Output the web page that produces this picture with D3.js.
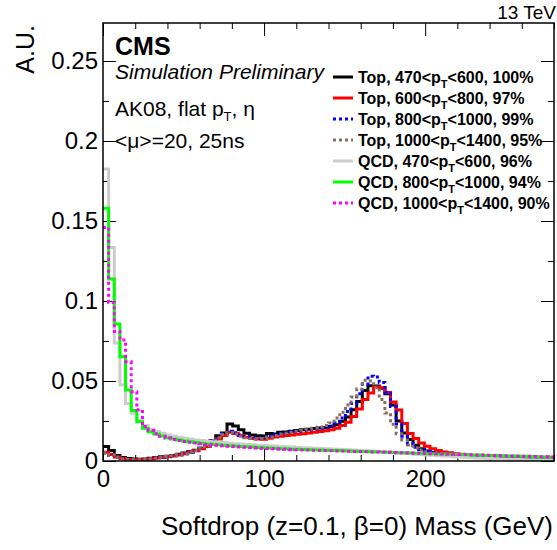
<!DOCTYPE html>
<html>
<head>
<meta charset="utf-8">
<script src="https://cdnjs.cloudflare.com/ajax/libs/d3/7.8.5/d3.min.js"></script>
<style>
  body { margin: 0; background: #fff; }
  svg { display: block; font-family: "Liberation Sans", Arial, Helvetica, sans-serif; }
</style>
</head>
<body>
<svg id="chart" width="557" height="550"></svg>
<script>
"use strict";

// Histogram binning: 80 bins of 3.5 GeV, 0 - 280 GeV
var bin_width = 3.5;

var top_470_600 = [
  0.0090, 0.0065, 0.0035, 0.0022, 0.0015, 0.0012, 0.0011, 0.0013, 0.0017, 0.0022,
  0.0026, 0.0030, 0.0035, 0.0042, 0.0050, 0.0058, 0.0067, 0.0079, 0.0094, 0.0125,
  0.0158, 0.0175, 0.0232, 0.0218, 0.0196, 0.0174, 0.0163, 0.0158, 0.0156, 0.0172,
  0.0168, 0.0180, 0.0182, 0.0186, 0.0191, 0.0196, 0.0199, 0.0203, 0.0206, 0.0210,
  0.0216, 0.0226, 0.0248, 0.0275, 0.0320, 0.0372, 0.0440, 0.0470, 0.0468, 0.0455,
  0.0420, 0.0350, 0.0250, 0.0175, 0.0135, 0.0098, 0.0076, 0.0062, 0.0053, 0.0047,
  0.0042, 0.0039, 0.0036, 0.0034, 0.0032, 0.0031, 0.0030, 0.0029, 0.0028, 0.0027,
  0.0026, 0.0026, 0.0025, 0.0024, 0.0024, 0.0023, 0.0023, 0.0022, 0.0022, 0.0021
];
var top_600_800 = [
  0.0055, 0.0040, 0.0025, 0.0015, 0.0010, 0.0008, 0.0008, 0.0010, 0.0013, 0.0018,
  0.0022, 0.0026, 0.0031, 0.0038, 0.0045, 0.0054, 0.0064, 0.0076, 0.0090, 0.0115,
  0.0138, 0.0160, 0.0180, 0.0172, 0.0160, 0.0148, 0.0141, 0.0137, 0.0136, 0.0142,
  0.0150, 0.0155, 0.0159, 0.0163, 0.0167, 0.0171, 0.0175, 0.0179, 0.0184, 0.0189,
  0.0195, 0.0204, 0.0222, 0.0242, 0.0278, 0.0325, 0.0385, 0.0425, 0.0462, 0.0458,
  0.0428, 0.0368, 0.0318, 0.0235, 0.0172, 0.0140, 0.0112, 0.0092, 0.0077, 0.0066,
  0.0057, 0.0051, 0.0046, 0.0042, 0.0038, 0.0035, 0.0033, 0.0031, 0.0029, 0.0028,
  0.0027, 0.0026, 0.0025, 0.0024, 0.0024, 0.0023, 0.0023, 0.0022, 0.0022, 0.0021
];
var top_800_1000 = [
  0.0050, 0.0036, 0.0022, 0.0014, 0.0010, 0.0008, 0.0008, 0.0010, 0.0014, 0.0018,
  0.0023, 0.0027, 0.0032, 0.0039, 0.0046, 0.0055, 0.0066, 0.0080, 0.0098, 0.0128,
  0.0150, 0.0172, 0.0186, 0.0176, 0.0162, 0.0152, 0.0146, 0.0142, 0.0145, 0.0154,
  0.0164, 0.0170, 0.0175, 0.0180, 0.0185, 0.0190, 0.0195, 0.0200, 0.0206, 0.0212,
  0.0218, 0.0238, 0.0268, 0.0310, 0.0360, 0.0420, 0.0480, 0.0530, 0.0525, 0.0490,
  0.0430, 0.0340, 0.0232, 0.0155, 0.0110, 0.0086, 0.0070, 0.0060, 0.0052, 0.0046,
  0.0041, 0.0038, 0.0035, 0.0033, 0.0031, 0.0030, 0.0029, 0.0028, 0.0027, 0.0026,
  0.0025, 0.0025, 0.0024, 0.0024, 0.0023, 0.0023, 0.0022, 0.0022, 0.0021, 0.0021
];
var top_1000_1400 = [
  0.0052, 0.0038, 0.0023, 0.0014, 0.0010, 0.0008, 0.0008, 0.0010, 0.0014, 0.0019,
  0.0024, 0.0028, 0.0033, 0.0040, 0.0047, 0.0056, 0.0066, 0.0079, 0.0095, 0.0120,
  0.0145, 0.0165, 0.0178, 0.0168, 0.0155, 0.0146, 0.0140, 0.0138, 0.0140, 0.0150,
  0.0160, 0.0168, 0.0174, 0.0180, 0.0186, 0.0192, 0.0198, 0.0205, 0.0212, 0.0222,
  0.0238, 0.0268, 0.0305, 0.0350, 0.0400, 0.0450, 0.0505, 0.0500, 0.0460, 0.0385,
  0.0300, 0.0230, 0.0170, 0.0132, 0.0100, 0.0082, 0.0068, 0.0058, 0.0050, 0.0044,
  0.0040, 0.0037, 0.0034, 0.0032, 0.0030, 0.0029, 0.0028, 0.0027, 0.0026, 0.0025,
  0.0024, 0.0024, 0.0023, 0.0023, 0.0022, 0.0022, 0.0021, 0.0021, 0.0020, 0.0020
];
var qcd_470_600 = [
  0.1825, 0.1335, 0.0737, 0.0475, 0.0360, 0.0298, 0.0256, 0.0222, 0.0200, 0.0185,
  0.0173, 0.0163, 0.0155, 0.0148, 0.0142, 0.0137, 0.0132, 0.0128, 0.0124, 0.0120,
  0.0117, 0.0114, 0.0111, 0.0108, 0.0106, 0.0103, 0.0101, 0.0099, 0.0097, 0.0095,
  0.0093, 0.0091, 0.0089, 0.0087, 0.0085, 0.0083, 0.0082, 0.0080, 0.0078, 0.0077,
  0.0075, 0.0073, 0.0072, 0.0070, 0.0068, 0.0066, 0.0064, 0.0062, 0.0060, 0.0057,
  0.0054, 0.0052, 0.0049, 0.0047, 0.0045, 0.0042, 0.0040, 0.0038, 0.0036, 0.0033,
  0.0031, 0.0029, 0.0027, 0.0025, 0.0023, 0.0021, 0.0019, 0.0017, 0.0015, 0.0014,
  0.0012, 0.0011, 0.0010, 0.0009, 0.0008, 0.0007, 0.0006, 0.0006, 0.0005, 0.0005
];
var qcd_800_1000 = [
  0.1580, 0.1137, 0.0856, 0.0652, 0.0444, 0.0316, 0.0246, 0.0204, 0.0183, 0.0168,
  0.0156, 0.0146, 0.0138, 0.0131, 0.0125, 0.0120, 0.0115, 0.0111, 0.0107, 0.0104,
  0.0101, 0.0098, 0.0095, 0.0093, 0.0091, 0.0089, 0.0087, 0.0085, 0.0083, 0.0081,
  0.0079, 0.0077, 0.0076, 0.0074, 0.0073, 0.0072, 0.0070, 0.0069, 0.0068, 0.0067,
  0.0066, 0.0065, 0.0064, 0.0062, 0.0061, 0.0060, 0.0059, 0.0058, 0.0057, 0.0056,
  0.0054, 0.0053, 0.0052, 0.0051, 0.0050, 0.0049, 0.0048, 0.0046, 0.0045, 0.0044,
  0.0043, 0.0042, 0.0041, 0.0040, 0.0039, 0.0038, 0.0037, 0.0036, 0.0035, 0.0034,
  0.0033, 0.0032, 0.0031, 0.0030, 0.0029, 0.0028, 0.0027, 0.0026, 0.0025, 0.0024
];
var qcd_1000_1400 = [
  0.1460, 0.0990, 0.0810, 0.0756, 0.0620, 0.0433, 0.0320, 0.0215, 0.0190, 0.0170,
  0.0154, 0.0143, 0.0135, 0.0128, 0.0122, 0.0117, 0.0112, 0.0108, 0.0104, 0.0101,
  0.0098, 0.0095, 0.0092, 0.0090, 0.0088, 0.0086, 0.0084, 0.0082, 0.0080, 0.0078,
  0.0076, 0.0075, 0.0073, 0.0072, 0.0070, 0.0069, 0.0068, 0.0067, 0.0066, 0.0065,
  0.0064, 0.0063, 0.0062, 0.0061, 0.0060, 0.0059, 0.0058, 0.0057, 0.0056, 0.0055,
  0.0054, 0.0053, 0.0052, 0.0051, 0.0050, 0.0049, 0.0048, 0.0047, 0.0046, 0.0045,
  0.0044, 0.0043, 0.0042, 0.0041, 0.0040, 0.0039, 0.0038, 0.0037, 0.0036, 0.0035,
  0.0034, 0.0033, 0.0032, 0.0031, 0.0030, 0.0029, 0.0028, 0.0027, 0.0026, 0.0025
];

// Legend entries, in drawing order
var sample_names = ['Top', 'Top', 'Top', 'Top', 'QCD', 'QCD', 'QCD'];
var pt_low       = ['470', '600', '800', '1000', '470', '800', '1000'];
var pt_high      = ['600', '800', '1000', '1400', '600', '1000', '1400'];
var efficiencies = ['100', '97', '99', '95', '96', '94', '90'];
var series_values = [top_470_600, top_600_800, top_800_1000, top_1000_1400,
                     qcd_470_600, qcd_800_1000, qcd_1000_1400];

var line_colors = ['#000000', '#ff0000', '#0000ff', '#8c6e60', '#cccccc', '#00ff00', '#ff00ff'];
var line_dashes = [null, null, '3,3', '3,3', null, null, '3,3'];

var y_major_ticks = [0, 0.05, 0.1, 0.15, 0.2, 0.25];
var x_major_ticks = [0, 100, 200];

var svg = d3.select('#chart');
var left = 103, right = 554, top_y = 23, bottom = 461;

var x = d3.scaleLinear().domain([0, 280]).range([left, right]);
var y = d3.scaleLinear().domain([0, 0.27375]).range([bottom, top_y]);

function minor_ticks(major_step, minor_step, max) {
  var ticks = [];
  for (var i = 0; i * minor_step <= max + 1e-9; i++) {
    var v = i * minor_step;
    if (Math.abs(v / major_step - Math.round(v / major_step)) > 1e-6) ticks.push(v);
  }
  return ticks;
}

function draw_axis(axis, transform) {
  var g = svg.append('g').attr('transform', transform).call(axis);
  g.select('.domain').remove();
  g.selectAll('.tick line').attr('stroke', '#000');
  g.selectAll('text').attr('fill', '#000').attr('font-size', 24)
    .attr('font-family', '"Liberation Sans", Arial, Helvetica, sans-serif');
  return g;
}

var fmt = function(d) { return d === 0 ? '0' : String(+d.toFixed(2)); };
var y_minor = minor_ticks(0.05, 0.025, 0.27);
var x_minor = minor_ticks(100, 20, 280);

// left / right
draw_axis(d3.axisLeft(y).tickValues(y_major_ticks).tickSize(-13).tickPadding(5).tickFormat(fmt),
          'translate(' + left + ',0)');
draw_axis(d3.axisLeft(y).tickValues(y_minor).tickSize(-6).tickFormat(''), 'translate(' + left + ',0)');
draw_axis(d3.axisRight(y).tickValues(y_major_ticks).tickSize(-13).tickFormat(''), 'translate(' + right + ',0)');
draw_axis(d3.axisRight(y).tickValues(y_minor).tickSize(-6).tickFormat(''), 'translate(' + right + ',0)');
// bottom / top
draw_axis(d3.axisBottom(x).tickValues(x_major_ticks).tickSize(-13).tickPadding(9).tickFormat(d3.format('d')),
          'translate(0,' + bottom + ')');
draw_axis(d3.axisBottom(x).tickValues(x_minor).tickSize(-6).tickFormat(''), 'translate(0,' + bottom + ')');
draw_axis(d3.axisTop(x).tickValues(x_major_ticks).tickSize(-13).tickFormat(''), 'translate(0,' + top_y + ')');
draw_axis(d3.axisTop(x).tickValues(x_minor).tickSize(-6).tickFormat(''), 'translate(0,' + top_y + ')');

// histograms
svg.append('clipPath').attr('id', 'plot-clip').append('rect')
  .attr('x', left).attr('y', top_y).attr('width', right - left).attr('height', bottom - top_y);

var step_line = d3.line()
  .x(function(d) { return x(d.edge); })
  .y(function(d) { return y(d.value); })
  .curve(d3.curveStepAfter);

var hist_group = svg.append('g').attr('clip-path', 'url(#plot-clip)');
series_values.forEach(function(values, i) {
  var points = values.map(function(v, b) { return {edge: b * bin_width, value: v}; });
  points.push({edge: values.length * bin_width, value: values[values.length - 1]});
  hist_group.append('path')
    .attr('d', step_line(points))
    .attr('fill', 'none')
    .attr('stroke', line_colors[i])
    .attr('stroke-width', 3)
    .attr('stroke-dasharray', line_dashes[i]);
});

// frame
svg.append('rect')
  .attr('x', left).attr('y', top_y).attr('width', right - left).attr('height', bottom - top_y)
  .attr('fill', 'none').attr('stroke', '#000').attr('stroke-width', 1.5);

// titles
svg.append('text').attr('x', 556).attr('y', 19).attr('text-anchor', 'end')
  .attr('font-size', 19).text('13 TeV');
svg.append('text').attr('transform', 'translate(34,25) rotate(-90)').attr('text-anchor', 'end')
  .attr('font-size', 25).text('A.U.');
svg.append('text').attr('x', 553).attr('y', 535).attr('text-anchor', 'end')
  .attr('font-size', 26).text('Softdrop (z=0.1, \u03b2=0) Mass (GeV)');

svg.append('text').attr('x', 115).attr('y', 55).attr('font-size', 25).attr('font-weight', 'bold').text('CMS');
svg.append('text').attr('x', 115).attr('y', 79).attr('font-size', 21).attr('font-style', 'italic')
  .text('Simulation Preliminary');

var ak = svg.append('text').attr('x', 115).attr('y', 116).attr('font-size', 21);
ak.append('tspan').text('AK08, flat p');
ak.append('tspan').attr('font-size', 13).attr('dy', 5).text('T');
ak.append('tspan').attr('dy', -5).text(', \u03b7');
svg.append('text').attr('x', 115).attr('y', 148).attr('font-size', 21).text('<\u03bc>=20, 25ns');

// legend
var legend = svg.append('g').attr('font-size', 16).attr('font-weight', 'bold');
sample_names.forEach(function(name, i) {
  var cy = 77 + i * 21;
  legend.append('line').attr('x1', 333).attr('x2', 353).attr('y1', cy).attr('y2', cy)
    .attr('stroke', line_colors[i]).attr('stroke-width', 3)
    .attr('stroke-dasharray', line_dashes[i]);
  var t = legend.append('text').attr('x', 358).attr('y', cy + 5.5);
  t.append('tspan').text(name + ', ' + pt_low[i] + '<p');
  t.append('tspan').attr('font-size', 11).attr('dy', 5).text('T');
  t.append('tspan').attr('dy', -5).text('<' + pt_high[i] + ', ' + efficiencies[i] + '%');
});
</script>
</body>
</html>
